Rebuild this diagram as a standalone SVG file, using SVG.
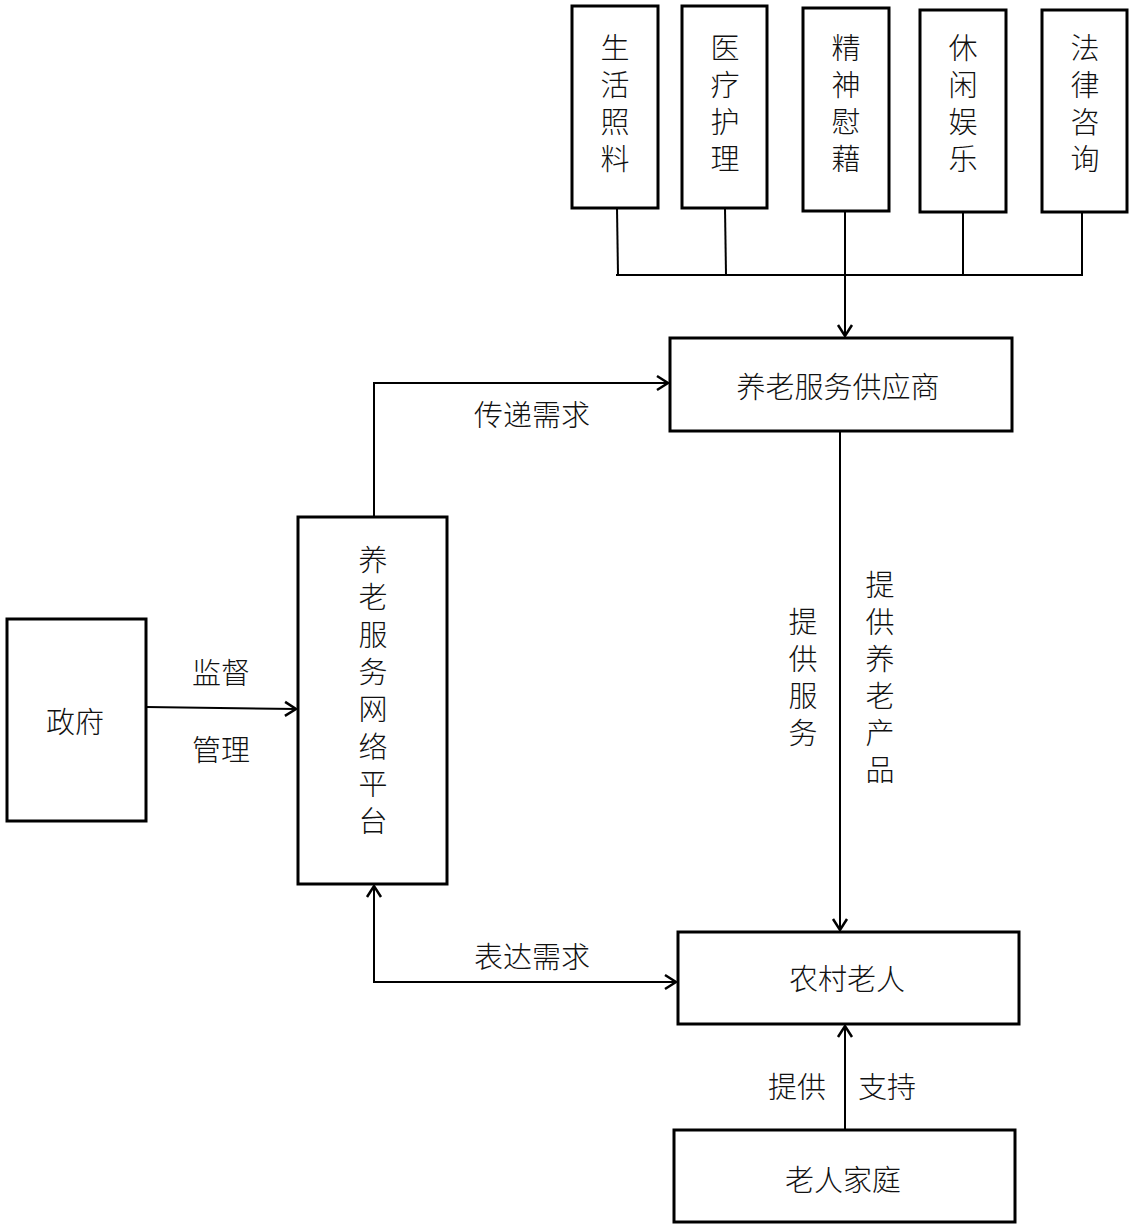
<svg xmlns="http://www.w3.org/2000/svg" width="1134" height="1228" viewBox="0 0 1134 1228">
<style>
.box{fill:#fff;stroke:#000;stroke-width:3}
.ln{fill:none;stroke:#000;stroke-width:2}
.t{font-family:"Noto Sans CJK SC","Noto Sans",sans-serif;font-size:29px;font-weight:300;fill:#111;text-anchor:middle;dominant-baseline:central}
.v{font-family:"Noto Sans CJK SC","Noto Sans",sans-serif;font-size:29px;font-weight:300;fill:#111;text-anchor:start;writing-mode:vertical-rl;letter-spacing:8px}
</style>
<defs>
<marker id="ah" markerUnits="userSpaceOnUse" markerWidth="20" markerHeight="20" viewBox="-12 -10 14 20" refX="0" refY="0" orient="auto">
<polyline points="-11,-7 0,0 -11,7" fill="none" stroke="#000" stroke-width="2.5"/>
</marker>
<marker id="ahs" markerUnits="userSpaceOnUse" markerWidth="20" markerHeight="20" viewBox="-12 -10 14 20" refX="0" refY="0" orient="auto-start-reverse">
<polyline points="-11,-7 0,0 -11,7" fill="none" stroke="#000" stroke-width="2.5"/>
</marker>
</defs>
<rect width="1134" height="1228" fill="#fff"/>
<g id="connectors">
<line class="ln" x1="617" y1="208" x2="618" y2="275"/>
<line class="ln" x1="725" y1="208" x2="726" y2="275"/>
<line class="ln" x1="963" y1="212" x2="963" y2="275"/>
<line class="ln" x1="1082" y1="212" x2="1082" y2="275"/>
<line class="ln" x1="616" y1="275" x2="1083" y2="275"/>
<line class="ln" x1="845" y1="211" x2="845" y2="336" marker-end="url(#ah)"/>
<polyline class="ln" points="374,517 374,383 668,383" marker-end="url(#ah)"/>
<line class="ln" x1="146" y1="707" x2="296" y2="709" marker-end="url(#ah)"/>
<line class="ln" x1="840" y1="431" x2="840" y2="930" marker-end="url(#ah)"/>
<polyline class="ln" points="374,886 374,982 676,982" marker-start="url(#ahs)" marker-end="url(#ah)"/>
<line class="ln" x1="845" y1="1130" x2="845" y2="1026" marker-end="url(#ah)"/>
<text class="t" x="532" y="413">传递需求</text>
<text class="t" x="221" y="671">监督</text>
<text class="t" x="221" y="748">管理</text>
<text class="t" x="532" y="955">表达需求</text>
<text class="t" x="797" y="1085">提供</text>
<text class="t" x="887" y="1085">支持</text>
<text class="v" x="803" y="607.5">提供服务</text>
<text class="v" x="880" y="570.5">提供养老产品</text>
</g>
<g id="n-shenghuo">
<rect class="box" x="572" y="6" width="86" height="202"/>
<text class="v" x="615" y="33.5">生活照料</text>
</g>
<g id="n-yiliao">
<rect class="box" x="682" y="6" width="85" height="202"/>
<text class="v" x="725" y="33.5">医疗护理</text>
</g>
<g id="n-jingshen">
<rect class="box" x="803" y="8" width="86" height="203"/>
<text class="v" x="846" y="33.5">精神慰藉</text>
</g>
<g id="n-xiuxian">
<rect class="box" x="920" y="10" width="86" height="202"/>
<text class="v" x="963" y="33.5">休闲娱乐</text>
</g>
<g id="n-falv">
<rect class="box" x="1042" y="10" width="85" height="202"/>
<text class="v" x="1085" y="33.5">法律咨询</text>
</g>
<g id="n-provider">
<rect class="box" x="670" y="338" width="342" height="93"/>
<text class="t" x="838" y="385">养老服务供应商</text>
</g>
<g id="n-platform">
<rect class="box" x="298" y="517" width="149" height="367"/>
<text class="v" x="373" y="545.5" style="letter-spacing:8.3px">养老服务网络平台</text>
</g>
<g id="n-gov">
<rect class="box" x="7" y="619" width="139" height="202"/>
<text class="t" x="75" y="720">政府</text>
</g>
<g id="n-elder">
<rect class="box" x="678" y="932" width="341" height="92"/>
<text class="t" x="847" y="977">农村老人</text>
</g>
<g id="n-family">
<rect class="box" x="674" y="1130" width="341" height="92"/>
<text class="t" x="843" y="1178">老人家庭</text>
</g>
</svg>
